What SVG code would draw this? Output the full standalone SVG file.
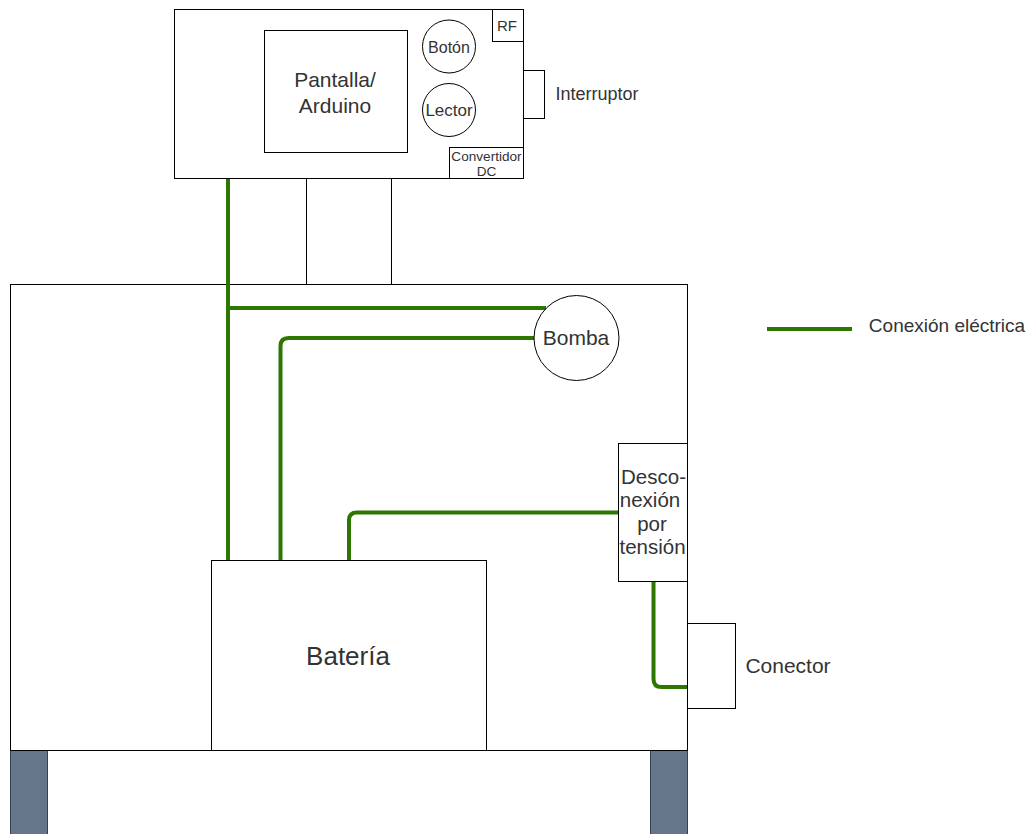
<svg xmlns="http://www.w3.org/2000/svg" width="1029" height="834" viewBox="0 0 1029 834">
<style>
.b{fill:#fff;stroke:#000;stroke-width:1}
.w{fill:none;stroke:#2d7600;stroke-width:4;stroke-linejoin:round}
.t{fill:none;stroke:#000;stroke-width:1}
text{font-family:"Liberation Sans",Arial,sans-serif;fill:#333;text-anchor:middle}
</style>
<rect width="1029" height="834" fill="#fff"/>
<g id="legs">
<rect x="10.500" y="750.500" width="37" height="84" fill="#647687" stroke="#314354"/>
<rect x="650.500" y="750.500" width="37" height="84" fill="#647687" stroke="#314354"/>
</g>
<g id="interruptor"><rect class="b" x="523.500" y="70.500" width="21" height="48"/><text x="597" y="100" font-size="18">Interruptor</text></g>
<g id="conector"><rect class="b" x="687.500" y="623.500" width="48" height="85"/><text x="788" y="673" font-size="21">Conector</text></g>
<g id="chasis"><rect class="b" x="10.500" y="284.500" width="677" height="466"/></g>
<g id="control"><rect class="b" x="174.500" y="9.500" width="349" height="169"/></g>
<g id="pantalla"><rect class="b" x="264.500" y="30.500" width="143" height="122"/><text x="335" y="87" font-size="21">Pantalla/</text><text x="335" y="113" font-size="21">Arduino</text></g>
<g id="boton"><circle class="b" cx="449" cy="46.500" r="26.500"/><text x="449" y="53" font-size="16">Botón</text></g>
<g id="lector"><circle class="b" cx="449" cy="110" r="26.500"/><text x="449" y="116" font-size="17">Lector</text></g>
<g id="rf"><rect class="b" x="492.500" y="9.500" width="31" height="32"/><text x="507" y="31" font-size="15">RF</text></g>
<g id="convertidor"><rect class="b" x="449.500" y="147.500" width="74" height="31"/><text x="486.500" y="161" font-size="13.600">Convertidor</text><text x="486.500" y="176" font-size="13.600">DC</text></g>
<g id="bateria"><rect class="b" x="211.500" y="560.500" width="275" height="190"/><text x="348" y="665" font-size="26">Batería</text></g>
<g id="connectors">
<path class="t" d="M306.500 178.500V284.500M391.500 178.500V284.500"/>
<path class="w" d="M228 179V560M228 308H546"/>
<path class="w" d="M280.500 560V346Q280.500 338 288.500 338H534"/>
<path class="w" d="M349 560V520Q349 512.500 357 512.500H619"/>
<path class="w" d="M653.500 581V679Q653.500 687 661.500 687H687"/>
<path class="w" d="M767 329H852"/>
</g>
<g id="bomba"><circle class="b" cx="576.500" cy="338" r="42.500"/><text x="576" y="345" font-size="21">Bomba</text></g>
<g id="desconexion"><rect class="b" x="618.500" y="443.500" width="69" height="138"/>
<text x="653.500" y="484" font-size="20.500">Desco-</text><text x="650" y="507" font-size="20.500">nexión</text><text x="652" y="531" font-size="20.500">por</text><text x="652.500" y="554" font-size="20.500">tensión</text></g>
<g id="legend"><text x="947" y="332" font-size="19">Conexión eléctrica</text></g>
</svg>
